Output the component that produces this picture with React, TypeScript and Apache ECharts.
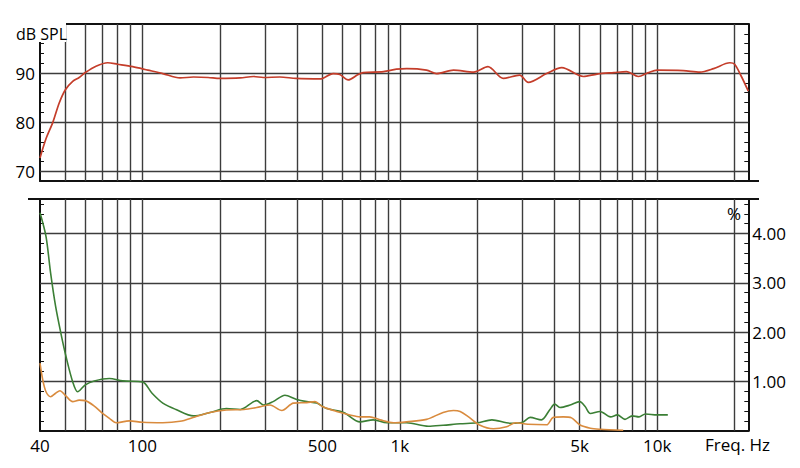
import React, { useEffect, useRef } from "react";
import * as echarts from "echarts";

const FONT = "'Open Sans', 'Noto Sans', sans-serif";

// Vertical grid frequencies (Hz)
const gridFreqs = [50, 60, 70, 80, 90, 100, 200, 300, 400, 500, 600, 700, 800, 900, 1000, 2000, 3000, 4000, 5000, 6000, 7000, 8000, 9000, 10000, 20000];
// Frequency tick labels
const freqTickLabels = [40, 100, 500, 1000, 5000, 10000];
// Horizontal grid values
const splGridValues = [70, 80, 90];
const distGridValues = [1, 2, 3, 4];

// Frequency response (dB SPL)
const splFreq = [40, 42.2, 44.9, 47.5, 50.2, 53.6, 56.8, 60, 66, 73.3, 80, 91.7, 105, 120, 140, 158, 180, 200, 240, 270, 295, 342, 395, 490, 551, 585, 630, 689, 720, 864, 970, 1064, 1270, 1390, 1617, 1937, 2200, 2525, 2920, 3157, 3720, 4260, 5170, 5840, 6790, 7600, 8450, 9240, 10000, 12640, 14650, 16570, 19170, 20000, 21250, 22600];
const splDb = [72.7, 76.6, 80.0, 83.9, 86.6, 88.3, 89.1, 90.1, 91.4, 92.1, 91.8, 91.3, 90.6, 89.9, 89.0, 89.2, 89.1, 88.9, 89.0, 89.3, 89.1, 89.2, 88.9, 88.8, 89.9, 89.7, 88.6, 89.7, 90.1, 90.3, 90.8, 90.9, 90.6, 89.9, 90.6, 90.2, 91.3, 88.9, 89.6, 88.1, 89.9, 91.1, 89.3, 89.8, 90.1, 90.3, 89.3, 90.1, 90.6, 90.5, 90.2, 90.9, 92.1, 91.8, 89.3, 86.3];

// Distortion (green, %)
const greenFreq = [40, 42.2, 44, 46, 48.2, 50.5, 53.6, 56, 60, 65, 74.4, 83.8, 100, 109, 120, 135, 158, 183, 212, 240, 278, 296, 322, 358, 395, 435, 476, 520, 605, 700, 788, 890, 1064, 1290, 1473, 1716, 2000, 2280, 2690, 3000, 3210, 3550, 3820, 4000, 4190, 4590, 5000, 5250, 5500, 6000, 6590, 7000, 7500, 8000, 8500, 9000, 10000, 11000];
const greenPct = [4.42, 3.94, 3.19, 2.52, 1.98, 1.50, 0.99, 0.79, 0.93, 1.01, 1.06, 1.01, 0.99, 0.76, 0.56, 0.43, 0.30, 0.37, 0.45, 0.43, 0.61, 0.52, 0.59, 0.72, 0.64, 0.59, 0.56, 0.45, 0.37, 0.18, 0.22, 0.16, 0.16, 0.09, 0.11, 0.14, 0.16, 0.22, 0.15, 0.17, 0.27, 0.22, 0.42, 0.54, 0.47, 0.52, 0.59, 0.49, 0.35, 0.39, 0.28, 0.32, 0.23, 0.30, 0.28, 0.34, 0.32, 0.32];

// Distortion (orange, %)
const orangeFreq = [40, 41, 42.2, 44, 46, 47.8, 50.5, 53.6, 56.8, 60, 65, 70, 74.4, 79, 88.9, 100, 120, 140, 160, 183, 212, 248, 278, 313, 348, 386, 435, 468, 500, 568, 640, 700, 764, 838, 945, 1064, 1270, 1473, 1617, 1716, 1850, 2050, 2310, 2600, 2820, 3140, 3720, 3945, 4320, 4650, 5000, 5500, 6000, 7380];
const orangePct = [1.37, 1.03, 0.79, 0.69, 0.76, 0.81, 0.70, 0.59, 0.62, 0.61, 0.50, 0.35, 0.25, 0.16, 0.20, 0.17, 0.16, 0.19, 0.28, 0.37, 0.42, 0.43, 0.47, 0.52, 0.41, 0.56, 0.57, 0.59, 0.49, 0.39, 0.32, 0.28, 0.28, 0.22, 0.16, 0.18, 0.23, 0.37, 0.41, 0.39, 0.28, 0.11, 0.04, 0.08, 0.16, 0.13, 0.12, 0.27, 0.28, 0.26, 0.12, 0.05, 0.03, 0.01];

const zip = (a: number[], b: number[]) => a.map((v, i) => [v, b[i]]);

const AXIS_COLOR = "#111111";
const GRID_COLOR = "#3c3c3c";
const TEXT_COLOR = "#000000";

function freqLabel(v: number) {
  const r = Math.round(v);
  return r >= 1000 ? r / 1000 + "k" : String(r);
}

export default function App() {
  const ref = useRef<HTMLDivElement>(null);

  useEffect(() => {
    if (!ref.current) return;
    const chart = echarts.init(ref.current, null, { renderer: "svg" });

    const axisLine = { show: true, onZero: false, lineStyle: { color: AXIS_COLOR, width: 2 } };
    const baseX = (gridIndex: number, position: string, labels: boolean) => ({
      type: "log",
      logBase: 10,
      min: 40,
      max: 22600,
      gridIndex,
      position,
      axisLine,
      axisTick: { show: false },
      minorTick: { show: false },
      splitLine: { show: false },
      minorSplitLine: { show: false },
      axisLabel: labels
        ? {
            show: true,
            customValues: freqTickLabels,
            formatter: (v: number) => freqLabel(v),
            fontSize: 17,
            fontFamily: FONT,
            color: TEXT_COLOR,
            margin: 6,
          }
        : { show: false },
    });

    const tick = { show: true, inside: true, length: 4, lineStyle: { color: AXIS_COLOR, width: 1 } };

    const gridLine = {
      silent: true,
      symbol: ["none", "none"],
      label: { show: false },
      emphasis: { disabled: true },
      lineStyle: { color: GRID_COLOR, width: 1.4, type: "solid" },
    };

    const option: any = {
      animation: false,
      textStyle: { fontFamily: FONT },
      grid: [
        { left: 40, top: 24, width: 708.3, height: 157 },
        { left: 40, top: 199, width: 708.3, height: 231.7 },
      ],
      xAxis: [baseX(0, "bottom", false), baseX(0, "top", false), baseX(1, "bottom", true), baseX(1, "top", false)],
      yAxis: [
        {
          type: "value",
          gridIndex: 0,
          position: "left",
          min: 68,
          max: 100,
          interval: 2,
          axisLine,
          axisTick: tick,
          splitLine: { show: false },
          axisLabel: {
            show: true,
            fontSize: 17,
            fontFamily: FONT,
            color: TEXT_COLOR,
            margin: 5,
            formatter: (v: number) => (splGridValues.indexOf(Math.round(v)) >= 0 && Math.abs(v - Math.round(v)) < 1e-6 ? String(Math.round(v)) : ""),
          },
        },
        {
          type: "value",
          gridIndex: 0,
          position: "right",
          min: 68,
          max: 100,
          interval: 2,
          axisLine,
          axisTick: tick,
          splitLine: { show: false },
          axisLabel: { show: false },
        },
        {
          type: "value",
          gridIndex: 1,
          position: "left",
          min: 0,
          max: 4.7,
          interval: 0.2,
          axisLine,
          axisTick: tick,
          splitLine: { show: false },
          axisLabel: { show: false },
        },
        {
          type: "value",
          gridIndex: 1,
          position: "right",
          min: 0,
          max: 4.7,
          interval: 0.2,
          axisLine,
          axisTick: tick,
          splitLine: { show: false },
          axisLabel: {
            show: true,
            fontSize: 17,
            fontFamily: FONT,
            color: TEXT_COLOR,
            margin: 4,
            formatter: (v: number) => {
              const r = Math.round(v);
              return Math.abs(v - r) < 1e-6 && distGridValues.indexOf(r) >= 0 ? r.toFixed(2) : "";
            },
          },
        },
      ],
      series: [
        {
          type: "line",
          xAxisIndex: 0,
          yAxisIndex: 0,
          data: [],
          z: 1,
          silent: true,
          markLine: {
            ...gridLine,
            data: [...gridFreqs.map((f) => ({ xAxis: f })), ...splGridValues.map((v) => ({ yAxis: v }))],
          },
        },
        {
          type: "line",
          xAxisIndex: 2,
          yAxisIndex: 2,
          data: [],
          z: 1,
          silent: true,
          markLine: {
            ...gridLine,
            data: [...gridFreqs.map((f) => ({ xAxis: f })), ...distGridValues.map((v) => ({ yAxis: v }))],
          },
        },
        {
          name: "SPL",
          type: "line",
          xAxisIndex: 0,
          yAxisIndex: 0,
          data: zip(splFreq, splDb),
          showSymbol: false,
          smooth: 0.3,
          z: 5,
          lineStyle: { color: "#c43d2a", width: 1.7 },
        },
        {
          name: "green",
          type: "line",
          xAxisIndex: 2,
          yAxisIndex: 2,
          data: zip(greenFreq, greenPct),
          showSymbol: false,
          smooth: 0.3,
          z: 5,
          lineStyle: { color: "#3b7f35", width: 1.6 },
        },
        {
          name: "orange",
          type: "line",
          xAxisIndex: 2,
          yAxisIndex: 2,
          data: zip(orangeFreq, orangePct),
          showSymbol: false,
          smooth: 0.3,
          z: 6,
          lineStyle: { color: "#d98b3e", width: 1.6 },
        },
      ],
      graphic: [
        { type: "rect", z: 100, shape: { x: 8, y: 16, width: 58, height: 26 }, style: { fill: "#ffffff" } },
        {
          type: "text",
          z: 101,
          x: 16,
          y: 33.5,
          style: { text: "dB SPL", fontSize: 16, fontFamily: FONT, fill: TEXT_COLOR, verticalAlign: "middle", align: "left" },
        },
        {
          type: "text",
          z: 101,
          x: 727,
          y: 213,
          style: { text: "%", fontSize: 17, fontFamily: FONT, fill: TEXT_COLOR, verticalAlign: "middle", align: "left" },
        },
        {
          type: "text",
          z: 101,
          x: 705,
          y: 444,
          style: { text: "Freq. Hz", fontSize: 17, fontFamily: FONT, fill: TEXT_COLOR, verticalAlign: "middle", align: "left" },
        },
        { type: "line", z: 50, shape: { x1: 747, y1: 181, x2: 759, y2: 181 }, style: { stroke: AXIS_COLOR, lineWidth: 2 } },
        { type: "line", z: 50, shape: { x1: 28, y1: 199, x2: 41, y2: 199 }, style: { stroke: AXIS_COLOR, lineWidth: 2 } },
        { type: "line", z: 50, shape: { x1: 747, y1: 199, x2: 759, y2: 199 }, style: { stroke: AXIS_COLOR, lineWidth: 2 } },
      ],
    };

    chart.setOption(option);
    return () => chart.dispose();
  }, []);

  return <div ref={ref} style={{ position: "fixed", left: 0, top: 0, width: 800, height: 468, background: "#fff" }} />;
}
